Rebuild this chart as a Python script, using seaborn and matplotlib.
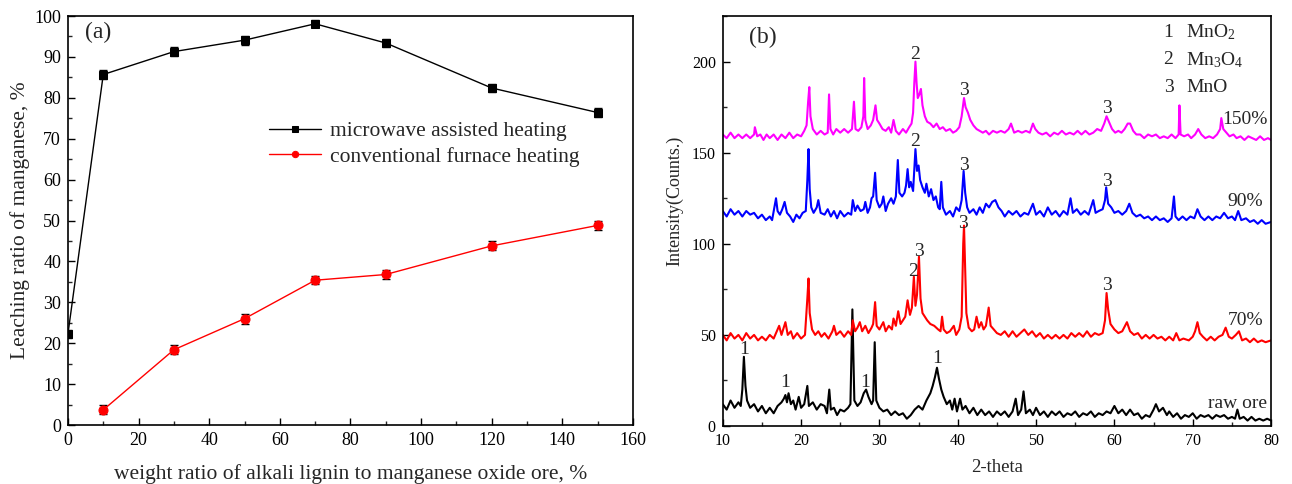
import numpy as np
import pandas as pd
import seaborn as sns
import matplotlib.pyplot as plt
from matplotlib.ticker import MultipleLocator

# ---- panel (a): leaching ratio ----
ratio_mw = [0, 10, 30, 50, 70, 90, 120, 150]
leach_mw = [22.3, 85.7, 91.3, 94.1, 98.1, 93.4, 82.4, 76.4]
err_mw = [1.0, 1.0, 1.1, 1.1, 0.9, 1.0, 1.1, 1.1]

ratio_cf = [10, 30, 50, 70, 90, 120, 150]
leach_cf = [3.7, 18.4, 26.0, 35.4, 36.8, 43.8, 48.8]
err_cf = [1.1, 1.1, 1.2, 1.0, 1.0, 1.1, 1.2]

# ---- panel (b): XRD patterns, (2-theta, counts) ----
raw_ore = [
    (10.0, 12), (10.5, 9), (11.0, 14), (11.5, 10), (12.0, 13), (12.3, 11), (12.5, 20), (12.7, 38),
    (12.9, 22), (13.1, 14), (13.5, 10), (14.0, 12), (14.5, 8), (15.0, 11), (15.5, 7), (16.0, 10),
    (16.5, 7), (17.0, 11), (17.5, 13), (17.8, 15), (18.0, 17), (18.2, 13), (18.4, 18), (18.7, 12),
    (19.0, 14), (19.3, 9), (19.7, 16), (20.0, 10), (20.4, 12), (20.8, 22), (21.0, 11), (21.5, 13),
    (22.0, 9), (22.5, 12), (23.0, 11), (23.3, 7), (23.6, 20), (23.8, 9), (24.2, 10), (24.6, 6),
    (25.0, 9), (25.5, 8), (26.0, 10), (26.3, 12), (26.55, 64), (26.8, 14), (27.2, 11), (27.6, 13),
    (28.0, 18), (28.3, 20), (28.6, 16), (29.0, 12), (29.2, 14), (29.4, 46), (29.6, 14), (30.0, 10),
    (30.5, 8), (31.0, 9), (31.5, 6), (32.0, 8), (32.5, 6), (33.0, 7), (33.5, 4), (34.0, 6),
    (34.5, 9), (35.0, 11), (35.5, 9), (36.0, 14), (36.5, 18), (36.8, 22), (37.1, 27), (37.35, 32),
    (37.6, 26), (37.9, 20), (38.2, 16), (38.6, 12), (39.0, 14), (39.3, 9), (39.6, 15), (39.9, 8),
    (40.3, 15), (40.6, 9), (41.0, 11), (41.5, 7), (42.0, 10), (42.5, 6), (43.0, 9), (43.5, 6),
    (44.0, 8), (44.5, 5), (45.0, 8), (45.5, 6), (46.0, 8), (46.5, 5), (47.0, 8), (47.4, 15),
    (47.7, 6), (48.1, 9), (48.4, 19), (48.7, 7), (49.2, 9), (49.6, 6), (50.0, 10), (50.5, 6),
    (51.0, 8), (51.5, 5), (52.0, 8), (52.5, 6), (53.0, 8), (53.5, 5), (54.0, 7), (54.5, 6),
    (55.0, 8), (55.5, 5), (56.0, 7), (56.5, 6), (57.0, 8), (57.5, 5), (58.0, 7), (58.5, 6),
    (59.0, 8), (59.5, 7), (60.0, 11), (60.5, 7), (61.0, 9), (61.5, 6), (62.0, 9), (62.5, 6),
    (63.0, 7), (63.5, 4), (64.0, 6), (64.5, 5), (65.0, 9), (65.3, 12), (65.7, 8), (66.2, 10),
    (66.7, 6), (67.0, 8), (67.5, 5), (68.0, 7), (68.5, 4), (69.0, 6), (69.5, 5), (70.0, 7),
    (70.5, 4), (71.0, 6), (71.5, 5), (72.0, 6), (72.5, 4), (73.0, 6), (73.5, 5), (74.0, 6),
    (74.5, 4), (75.0, 5), (75.4, 4), (75.7, 9), (76.0, 4), (76.5, 5), (77.0, 3), (77.5, 5),
    (78.0, 3), (78.5, 4), (79.0, 3), (79.5, 4), (80.0, 3),
]

ratio_70 = [
    (10.0, 50), (10.5, 47), (11.0, 51), (11.5, 48), (12.0, 50), (12.5, 47), (13.0, 51), (13.5, 48),
    (14.0, 50), (14.5, 47), (15.0, 49), (15.5, 47), (16.0, 50), (16.5, 48), (17.0, 53), (17.2, 55),
    (17.5, 50), (18.0, 57), (18.3, 50), (18.7, 52), (19.0, 48), (19.5, 51), (20.0, 48), (20.5, 50),
    (20.8, 70), (20.95, 81), (21.1, 62), (21.4, 53), (21.8, 50), (22.2, 52), (22.6, 49), (23.0, 51),
    (23.5, 48), (24.0, 52), (24.2, 55), (24.5, 50), (25.0, 52), (25.5, 49), (26.0, 52), (26.4, 50),
    (26.6, 58), (26.9, 52), (27.2, 54), (27.5, 57), (27.8, 52), (28.2, 55), (28.6, 51), (29.0, 54),
    (29.2, 56), (29.45, 68), (29.65, 55), (30.0, 53), (30.5, 57), (30.8, 52), (31.2, 55), (31.6, 53),
    (31.8, 59), (32.1, 55), (32.4, 63), (32.7, 56), (33.0, 58), (33.3, 60), (33.6, 69), (33.9, 61),
    (34.15, 65), (34.4, 82), (34.6, 66), (34.8, 72), (35.05, 93), (35.25, 70), (35.5, 62), (35.8, 60),
    (36.1, 58), (36.5, 56), (37.0, 55), (37.5, 53), (37.8, 52), (38.0, 60), (38.2, 53), (38.6, 51),
    (39.0, 52), (39.5, 55), (39.8, 50), (40.2, 53), (40.5, 60), (40.7, 100), (40.8, 110), (40.95, 85),
    (41.1, 62), (41.4, 54), (41.8, 52), (42.1, 53), (42.4, 60), (42.7, 54), (43.0, 57), (43.3, 53),
    (43.6, 55), (43.95, 65), (44.2, 55), (44.6, 53), (45.0, 51), (45.5, 50), (46.0, 52), (46.5, 49),
    (47.0, 52), (47.5, 49), (48.0, 51), (48.5, 53), (49.0, 50), (49.5, 52), (50.0, 49), (50.5, 51),
    (51.0, 48), (51.5, 50), (52.0, 48), (52.5, 50), (53.0, 48), (53.5, 50), (54.0, 48), (54.5, 51),
    (55.0, 49), (55.5, 51), (56.0, 49), (56.5, 52), (57.0, 49), (57.5, 51), (58.0, 50), (58.5, 51),
    (58.8, 58), (59.0, 73), (59.2, 64), (59.5, 56), (60.0, 53), (60.5, 51), (61.0, 52), (61.6, 57),
    (62.0, 52), (62.5, 50), (63.0, 51), (63.5, 48), (64.0, 50), (64.5, 48), (65.0, 50), (65.5, 48),
    (66.0, 49), (66.5, 47), (67.0, 49), (67.5, 47), (67.9, 51), (68.3, 47), (68.8, 48), (69.5, 47),
    (70.0, 49), (70.3, 52), (70.6, 57), (70.9, 51), (71.3, 49), (71.8, 47), (72.3, 49), (72.8, 47),
    (73.3, 49), (73.8, 50), (74.2, 54), (74.6, 49), (75.0, 48), (75.5, 50), (75.9, 52), (76.3, 47),
    (76.8, 48), (77.3, 46), (77.8, 48), (78.3, 46), (78.8, 47), (79.3, 46), (80.0, 47),
]

ratio_90 = [
    (10.0, 118), (10.5, 115), (11.0, 119), (11.5, 116), (12.0, 118), (12.5, 115), (13.0, 118), (13.5, 116),
    (14.0, 117), (14.5, 114), (15.0, 116), (15.5, 113), (16.0, 115), (16.3, 113), (16.6, 120), (16.8, 125),
    (17.0, 118), (17.3, 116), (17.6, 119), (17.9, 123), (18.2, 117), (18.6, 115), (19.0, 112), (19.4, 116),
    (19.8, 114), (20.2, 117), (20.6, 118), (20.8, 135), (20.95, 152), (21.1, 130), (21.3, 120), (21.6, 117),
    (22.0, 120), (22.2, 124), (22.5, 117), (23.0, 116), (23.4, 119), (23.8, 115), (24.2, 118), (24.6, 114),
    (25.0, 118), (25.5, 115), (26.0, 117), (26.4, 116), (26.6, 124), (26.9, 118), (27.2, 121), (27.6, 118),
    (28.0, 119), (28.2, 123), (28.5, 117), (28.8, 120), (29.0, 125), (29.2, 126), (29.45, 139), (29.65, 124),
    (30.0, 120), (30.3, 122), (30.5, 126), (30.8, 118), (31.1, 122), (31.5, 125), (31.8, 122), (32.1, 126),
    (32.35, 146), (32.55, 128), (32.9, 126), (33.2, 128), (33.4, 132), (33.6, 141), (33.8, 131), (34.0, 134),
    (34.3, 129), (34.6, 152), (34.8, 140), (35.0, 143), (35.2, 135), (35.5, 131), (35.8, 128), (36.0, 133),
    (36.3, 126), (36.6, 130), (36.9, 124), (37.2, 126), (37.5, 120), (37.7, 119), (37.9, 134), (38.1, 120),
    (38.5, 116), (39.0, 118), (39.4, 115), (39.8, 120), (40.2, 118), (40.5, 124), (40.75, 140), (40.95, 128),
    (41.2, 120), (41.5, 117), (42.0, 119), (42.4, 116), (42.8, 120), (43.2, 117), (43.6, 122), (44.0, 120),
    (44.4, 123), (44.8, 124), (45.2, 120), (45.6, 118), (46.0, 115), (46.5, 118), (47.0, 116), (47.5, 118),
    (48.0, 115), (48.5, 117), (49.0, 116), (49.6, 122), (50.0, 116), (50.5, 118), (51.0, 115), (51.5, 120),
    (52.0, 116), (52.5, 118), (53.0, 115), (53.5, 118), (54.0, 116), (54.4, 125), (54.7, 117), (55.2, 119),
    (55.7, 116), (56.2, 118), (56.7, 116), (57.3, 124), (57.6, 117), (58.0, 118), (58.5, 119), (58.8, 124),
    (58.95, 131), (59.2, 122), (59.6, 120), (60.0, 117), (60.5, 118), (61.0, 116), (61.5, 118), (61.9, 122),
    (62.3, 117), (62.8, 115), (63.3, 116), (63.8, 114), (64.3, 115), (64.8, 113), (65.3, 115), (65.8, 113),
    (66.3, 114), (66.8, 112), (67.3, 114), (67.6, 126), (67.8, 115), (68.2, 113), (68.7, 115), (69.2, 113),
    (69.7, 115), (70.2, 114), (70.6, 119), (71.0, 115), (71.5, 113), (72.0, 115), (72.5, 113), (73.0, 115),
    (73.5, 114), (74.0, 117), (74.5, 114), (75.0, 115), (75.4, 113), (75.8, 118), (76.2, 113), (76.8, 114),
    (77.3, 112), (77.8, 113), (78.3, 111), (78.8, 113), (79.3, 111), (80.0, 112),
]

ratio_150 = [
    (10.0, 160), (10.5, 158), (11.0, 161), (11.5, 158), (12.0, 160), (12.5, 158), (13.0, 160), (13.5, 158),
    (14.0, 160), (14.1, 164), (14.4, 159), (14.8, 160), (15.2, 157), (15.6, 160), (16.0, 158), (16.5, 160),
    (17.0, 157), (17.5, 160), (18.0, 158), (18.5, 161), (19.0, 158), (19.5, 160), (20.0, 159), (20.4, 162),
    (20.7, 165), (20.9, 178), (21.05, 186), (21.2, 170), (21.5, 163), (22.0, 160), (22.5, 162), (23.0, 160),
    (23.4, 161), (23.57, 182), (23.75, 163), (24.1, 160), (24.5, 163), (25.0, 161), (25.5, 163), (26.0, 161),
    (26.5, 163), (26.75, 178), (26.95, 163), (27.3, 162), (27.7, 164), (27.95, 170), (28.05, 191), (28.2, 168),
    (28.5, 163), (28.9, 165), (29.2, 168), (29.5, 176), (29.7, 168), (30.0, 166), (30.4, 163), (30.8, 162),
    (31.2, 164), (31.5, 161), (31.8, 168), (32.1, 162), (32.5, 160), (33.0, 163), (33.4, 161), (33.8, 164),
    (34.1, 166), (34.3, 172), (34.45, 188), (34.6, 200), (34.75, 188), (34.9, 180), (35.1, 182), (35.3, 185),
    (35.5, 176), (35.8, 170), (36.1, 167), (36.5, 166), (36.9, 164), (37.3, 166), (37.7, 163), (38.1, 164),
    (38.5, 162), (39.0, 163), (39.4, 161), (39.8, 162), (40.2, 164), (40.5, 170), (40.8, 180), (41.0, 175),
    (41.3, 172), (41.6, 168), (42.0, 165), (42.4, 163), (42.8, 162), (43.2, 161), (43.6, 162), (44.0, 160),
    (44.5, 162), (45.0, 161), (45.5, 162), (46.0, 161), (46.5, 163), (46.8, 166), (47.2, 161), (47.7, 162),
    (48.2, 161), (48.7, 162), (49.2, 161), (49.6, 166), (49.9, 163), (50.3, 161), (50.8, 160), (51.3, 161),
    (51.8, 159), (52.3, 161), (52.8, 160), (53.3, 162), (53.8, 160), (54.3, 161), (54.8, 160), (55.3, 162),
    (55.8, 160), (56.3, 162), (56.8, 160), (57.3, 161), (57.8, 163), (58.3, 162), (58.7, 166), (59.0, 170),
    (59.3, 167), (59.7, 163), (60.1, 161), (60.5, 162), (60.9, 161), (61.3, 163), (61.7, 166), (62.0, 166),
    (62.4, 162), (62.8, 160), (63.3, 160), (63.8, 158), (64.3, 160), (64.8, 159), (65.3, 160), (65.8, 158),
    (66.3, 159), (66.8, 158), (67.3, 160), (67.8, 158), (68.2, 160), (68.3, 176), (68.45, 160), (68.9, 159),
    (69.4, 160), (69.8, 158), (70.3, 160), (70.7, 163), (71.1, 160), (71.6, 158), (72.1, 159), (72.6, 158),
    (73.1, 160), (73.5, 163), (73.65, 169), (73.9, 163), (74.3, 161), (74.7, 159), (75.2, 160), (75.6, 158),
    (76.1, 159), (76.6, 157), (77.1, 159), (77.6, 158), (78.1, 157), (78.6, 159), (79.1, 157), (79.6, 158),
    (80.0, 157),
]

xrd_names = ['raw ore', '70%', '90%', '150%']
xrd_colors = ['black', 'red', 'blue', 'magenta']

# phase labels: (2-theta, counts, phase number)
peak_labels = [
    (12.7, 42, '1'), (18.0, 24, '1'), (28.2, 24, '1'), (37.4, 37, '1'),
    (34.25, 85, '2'), (35.0, 96, '3'), (40.6, 111, '3'), (59.0, 77, '3'),
    (34.6, 156, '2'), (40.85, 143, '3'), (59.0, 134, '3'),
    (34.6, 204, '2'), (40.8, 184, '3'), (59.0, 174, '3'),
]
curve_labels = [(79.5, 168, '150%'), (79.0, 123, '90%'), (79.0, 58, '70%'), (79.5, 12.5, 'raw ore')]
phase_names = ['MnO$_2$', 'Mn$_3$O$_4$', 'MnO']

sns.set_theme(style='ticks')
plt.rcParams['font.family'] = ['Liberation Serif', 'DejaVu Serif']
plt.rcParams['mathtext.default'] = 'regular'
plt.rcParams['xtick.direction'] = 'in'
plt.rcParams['ytick.direction'] = 'in'

fig = plt.figure(figsize=(12.92, 4.84), dpi=100)
ax1 = fig.add_axes([0.0526, 0.1219, 0.4373, 0.845])
ax2 = fig.add_axes([0.5594, 0.1198, 0.4244, 0.847])

# ---------- (a) ----------
df_mw = pd.DataFrame({'ratio': ratio_mw, 'leach': leach_mw})
df_cf = pd.DataFrame({'ratio': ratio_cf, 'leach': leach_cf})
sns.lineplot(data=df_mw, x='ratio', y='leach', ax=ax1, color='black', marker='s',
             markersize=6, markeredgecolor='black', linewidth=1, label='microwave assisted heating')
sns.lineplot(data=df_cf, x='ratio', y='leach', ax=ax1, color='red', marker='o',
             markersize=6.5, markeredgecolor='red', linewidth=1, label='conventional furnace heating')
ax1.errorbar(ratio_mw, leach_mw, yerr=err_mw, fmt='none', ecolor='black', capsize=3,
             elinewidth=1, capthick=1, zorder=1)
ax1.errorbar(ratio_cf, leach_cf, yerr=err_cf, fmt='none', ecolor='black', capsize=3,
             elinewidth=1, capthick=1, zorder=1)

ax1.set_xlim(0, 160)
ax1.set_ylim(0, 100)
ax1.xaxis.set_major_locator(MultipleLocator(20))
ax1.xaxis.set_minor_locator(MultipleLocator(10))
ax1.yaxis.set_major_locator(MultipleLocator(10))
ax1.yaxis.set_minor_locator(MultipleLocator(5))
ax1.tick_params(which='major', length=5, width=1, labelsize=13, colors='black', pad=5)
ax1.tick_params(which='minor', length=3, width=1)
ax1.set_xlabel('weight ratio of alkali lignin to manganese oxide ore, %', fontsize=15.5, labelpad=11)
ax1.set_ylabel('Leaching ratio of manganese, %', fontsize=15.5, labelpad=3)
ax1.text(8.5, 96, '(a)', fontsize=17, ha='center', va='center')
ax1.legend(loc='upper left', bbox_to_anchor=(0.322, 0.79), frameon=False, fontsize=15.5,
           handlelength=2.4, handletextpad=0.4, labelspacing=0.25, markerscale=0.7)

# ---------- (b) ----------
for pattern, name, color in zip([raw_ore, ratio_70, ratio_90, ratio_150], xrd_names, xrd_colors):
    df = pd.DataFrame(pattern, columns=['theta', 'counts'])
    sns.lineplot(data=df, x='theta', y='counts', ax=ax2, color=color, linewidth=1.5,
                 estimator=None, legend=False)

ax2.set_xlim(10, 80)
ax2.set_ylim(0, 225)
ax2.xaxis.set_major_locator(MultipleLocator(10))
ax2.xaxis.set_minor_locator(MultipleLocator(5))
ax2.yaxis.set_major_locator(MultipleLocator(50))
ax2.yaxis.set_minor_locator(MultipleLocator(25))
ax2.tick_params(which='major', length=5, width=1, labelsize=11.5, colors='black', pad=5)
ax2.tick_params(which='minor', length=3, width=1)
ax2.set_xlabel('2-theta', fontsize=13.5, labelpad=7)
ax2.set_ylabel('Intensity(Counts.)', fontsize=13)
ax2.yaxis.set_label_coords(-0.072, 0.55)
ax2.text(15.1, 213, '(b)', fontsize=17, ha='center', va='center')

for tx, ty, s in peak_labels:
    ax2.text(tx, ty, s, fontsize=14, ha='center', va='center')
for tx, ty, s in curve_labels:
    ax2.text(tx, ty, s, fontsize=14, ha='right', va='center')
for i, nm in enumerate(phase_names):
    ax2.text(66.9, 216 - 15 * i, str(i + 1), fontsize=14, ha='center', va='center')
    ax2.text(69.2, 216 - 15 * i, nm, fontsize=14, ha='left', va='center')

for ax in (ax1, ax2):
    for sp in ax.spines.values():
        sp.set_visible(True)
        sp.set_linewidth(1.2)
        sp.set_color('black')

fig.savefig('out.png', dpi=100)
